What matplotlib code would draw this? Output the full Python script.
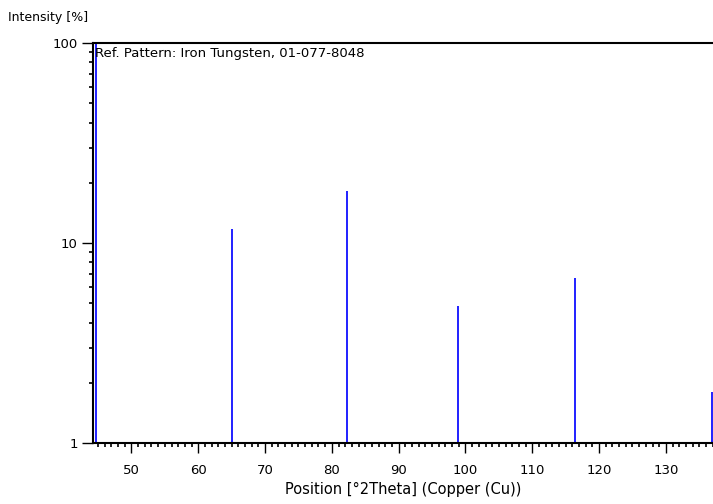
#!/usr/bin/env python

from matplotlib import pyplot as plt
from matplotlib.ticker import MultipleLocator, FixedLocator, NullFormatter
import numpy

# reference pattern peaks
positions = [44.7, 65.05, 82.3, 98.9, 116.4, 136.9]
intensities = [100.0, 11.8, 18.2, 4.85, 6.65, 1.8]
xticks = [50, 60, 70, 80, 90, 100, 110, 120, 130]
yticks = [1, 10, 100]

plt.rcParams['font.family'] = ['DejaVu Sans']
plt.rcParams['font.size'] = 9

fig = plt.figure(figsize=(7.13, 5.04), dpi=100)
ax = fig.add_axes([93/713, 61/504, 620/713, 400/504])

ax.vlines(positions, 1, intensities, colors='#2020ff', linewidth=1.4)

ax.set_yscale('log')
ax.set_xlim(44.25, 137.05)
ax.set_ylim(1, 100)

ax.xaxis.set_major_locator(FixedLocator(xticks))
ax.xaxis.set_minor_locator(MultipleLocator(1))
ax.set_xticklabels([str(t) for t in xticks], fontsize=9.5)
ax.set_yticks(yticks)
ax.set_yticklabels([str(t) for t in yticks], fontsize=9.5)
ax.yaxis.set_minor_formatter(NullFormatter())

ax.tick_params(axis='x', which='major', direction='out', length=7, width=1, pad=8)
ax.tick_params(axis='x', which='minor', direction='out', length=3, width=1.2)
ax.tick_params(axis='y', which='major', direction='out', length=8, width=1, pad=3)
ax.tick_params(axis='y', which='minor', direction='out', length=3, width=1.2)

for side in ['left', 'bottom', 'top']:
    ax.spines[side].set_linewidth(1.5)
ax.spines['right'].set_visible(False)

ax.text(0.004, 0.99, "Ref. Pattern: Iron Tungsten, 01-077-8048",
        transform=ax.transAxes, ha='left', va='top', fontsize=9.5)

fig.text(8/713, 1 - 17/504, "Intensity [%]", ha='left', va='center', fontsize=9)
ax.set_xlabel("Position [°2Theta] (Copper (Cu))", fontsize=10.5, labelpad=4)

plt.savefig('out.png', dpi=100)
